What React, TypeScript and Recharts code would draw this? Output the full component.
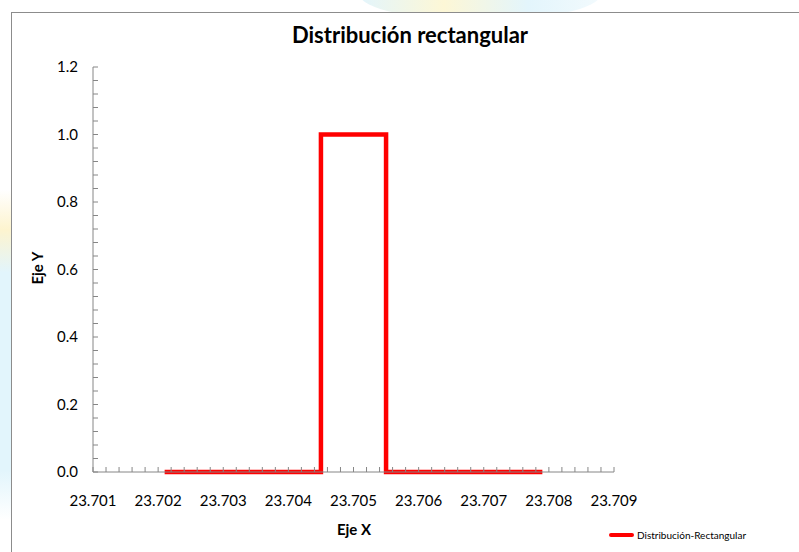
import React from 'react';
import { LineChart, Line, XAxis, YAxis } from 'recharts';

// Values
const xMajorTicks = [23.701, 23.702, 23.703, 23.704, 23.705, 23.706, 23.707, 23.708, 23.709];
const yMajorTicks = [0, 0.2, 0.4, 0.6, 0.8, 1.0, 1.2];
const xValues = [23.7021, 23.7045, 23.7045, 23.7055, 23.7055, 23.7079];
const yValues = [0, 0, 1, 1, 0, 0];

const X_SUBDIV = 5;
const Y_SUBDIV = 5;

function withMinor(majors: number[], subdiv: number, digits: number): number[] {
  const out: number[] = [];
  for (let i = 0; i < majors.length - 1; i++) {
    const step = (majors[i + 1] - majors[i]) / subdiv;
    for (let k = 0; k < subdiv; k++) out.push(Number((majors[i] + k * step).toFixed(digits)));
  }
  out.push(majors[majors.length - 1]);
  return out;
}

const xTicks = withMinor(xMajorTicks, X_SUBDIV, 6);
const yTicks = withMinor(yMajorTicks, Y_SUBDIV, 4);

const isMajor = (v: number, majors: number[]) => majors.some(m => Math.abs(m - v) < 1e-7);

const data = xValues.map((x, i) => ({ x, y: yValues[i] }));

const FONT = 'Lato, "Open Sans", sans-serif';
const AXIS = '#868686';
const RED = '#FF0000';

const XTick = (props: any) => {
  const { x, y, payload } = props;
  const major = isMajor(payload.value, xMajorTicks);
  return (
    <g>
      <line x1={x} x2={x} y1={y} y2={y - 5} stroke={AXIS} strokeWidth={1} />
      {major && (
        <text x={x} y={y + 34} textAnchor="middle" fontSize={15} fill="#000" fontFamily={FONT}>
          {payload.value.toFixed(3)}
        </text>
      )}
    </g>
  );
};

const YTick = (props: any) => {
  const { x, y, payload } = props;
  const major = isMajor(payload.value, yMajorTicks);
  return (
    <g>
      <line x1={x} x2={x + 5} y1={y} y2={y} stroke={AXIS} strokeWidth={1} />
      {major && (
        <text x={x - 15} y={y + 5} textAnchor="end" fontSize={15} fill="#000" fontFamily={FONT}>
          {payload.value.toFixed(1)}
        </text>
      )}
    </g>
  );
};

export default function App() {
  return (
    <div style={{ position: 'absolute', left: 0, top: 0, width: 799, height: 552, overflow: 'hidden', background: '#fff', fontFamily: FONT }}>
      {/* faint watermark behind the frame */}
      <div style={{ position: 'absolute', left: 360, top: -30, width: 240, height: 50, borderRadius: '50%', background: 'linear-gradient(90deg, #e3f5fc 0%, #fdf7d6 35%, #e3f5fc 70%, #f2fafd 100%)' }} />
      <div style={{ position: 'absolute', left: -20, top: 190, width: 40, height: 330, background: 'linear-gradient(180deg, #fff 0%, #fdf4cf 12%, #e2f5fc 25%, #e2f5fc 85%, #fff 100%)' }} />

      {/* chart frame */}
      <div style={{ position: 'absolute', left: 11, top: 12, width: 800, height: 560, background: '#fff', borderLeft: '1px solid #8c8c8c', borderTop: '1px solid #8c8c8c' }} />

      <div style={{ position: 'absolute', left: 0, top: 0 }}>
        <LineChart width={799} height={552} data={data} margin={{ top: 67, right: 185, bottom: 40, left: 43 }}>
          <XAxis
            dataKey="x"
            type="number"
            domain={[23.701, 23.709]}
            ticks={xTicks}
            interval={0}
            tickLine={false}
            tickSize={0}
            tickMargin={0}
            height={40}
            axisLine={{ stroke: AXIS }}
            tick={<XTick />}
          />
          <YAxis
            dataKey="y"
            type="number"
            domain={[0, 1.2]}
            ticks={yTicks}
            interval={0}
            tickLine={false}
            tickSize={0}
            tickMargin={0}
            width={50}
            axisLine={{ stroke: AXIS }}
            tick={<YTick />}
          />
          <Line
            type="linear"
            dataKey="y"
            stroke={RED}
            strokeWidth={4.5}
            strokeLinejoin="miter"
            dot={false}
            activeDot={false}
            isAnimationActive={false}
          />
        </LineChart>
      </div>

      {/* title */}
      <div style={{ position: 'absolute', left: 0, width: 820, top: 21, textAlign: 'center', fontSize: 22, fontWeight: 700, color: '#000' }}>
        Distribución rectangular
      </div>

      {/* axis titles */}
      <div style={{ position: 'absolute', left: 304, width: 100, top: 520, textAlign: 'center', fontSize: 15, fontWeight: 700, color: '#000' }}>
        Eje X
      </div>
      <div style={{ position: 'absolute', left: 37, top: 269, width: 0, height: 0 }}>
        <div style={{ position: 'absolute', left: -50, top: -10, width: 100, textAlign: 'center', fontSize: 15, fontWeight: 700, color: '#000', transform: 'rotate(-90deg)' }}>
          Eje Y
        </div>
      </div>

      {/* legend */}
      <div style={{ position: 'absolute', left: 609, top: 529, display: 'flex', alignItems: 'center' }}>
        <div style={{ width: 25, height: 4.5, background: RED, borderRadius: 2 }} />
        <span style={{ marginLeft: 3, fontSize: 10, color: '#000' }}>Distribución-Rectangular</span>
      </div>
    </div>
  );
}
